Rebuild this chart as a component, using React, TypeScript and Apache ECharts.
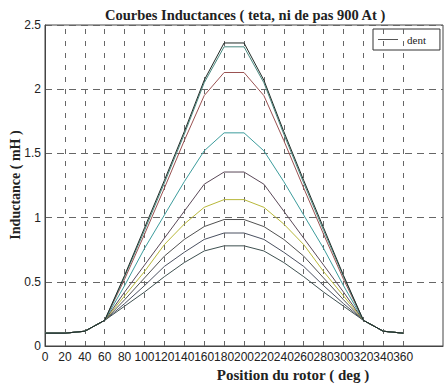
import React, { useEffect, useRef } from "react";
import * as echarts from "echarts";

const positions = [0, 20, 40, 60, 80, 100, 120, 140, 160, 180, 200, 220, 240, 260, 280, 300, 320, 340, 360];
const xTickLabels = [0, 20, 40, 60, 80, 100, 120, 140, 160, 180, 200, 220, 240, 260, 280, 300, 320, 340, 360];
const gridXs = [20, 40, 60, 80, 100, 120, 140, 160, 180, 200, 220, 240, 260, 280, 300, 320, 340, 360];

const curve1 = [0.1, 0.1, 0.115, 0.2, 0.55, 0.92, 1.29, 1.67, 2.07, 2.36, 2.36, 2.07, 1.67, 1.29, 0.92, 0.55, 0.2, 0.115, 0.1];
const curve2 = [0.1, 0.1, 0.115, 0.2, 0.54, 0.9, 1.27, 1.65, 2.05, 2.33, 2.33, 2.05, 1.65, 1.27, 0.9, 0.54, 0.2, 0.115, 0.1];
const curve3 = [0.1, 0.1, 0.115, 0.2, 0.52, 0.87, 1.23, 1.6, 1.95, 2.13, 2.13, 1.95, 1.6, 1.23, 0.87, 0.52, 0.2, 0.115, 0.1];
const curve4 = [0.1, 0.1, 0.115, 0.2, 0.47, 0.76, 1.02, 1.28, 1.52, 1.66, 1.66, 1.52, 1.28, 1.02, 0.76, 0.47, 0.2, 0.115, 0.1];
const curve5 = [0.1, 0.1, 0.115, 0.2, 0.42, 0.63, 0.84, 1.05, 1.26, 1.355, 1.355, 1.26, 1.05, 0.84, 0.63, 0.42, 0.2, 0.115, 0.1];
const curve6 = [0.1, 0.1, 0.115, 0.2, 0.39, 0.58, 0.79, 0.95, 1.08, 1.14, 1.14, 1.08, 0.95, 0.79, 0.58, 0.39, 0.2, 0.115, 0.1];
const curve7 = [0.1, 0.1, 0.115, 0.2, 0.36, 0.53, 0.7, 0.83, 0.93, 0.985, 0.985, 0.93, 0.83, 0.7, 0.53, 0.36, 0.2, 0.115, 0.1];
const curve8 = [0.1, 0.1, 0.115, 0.2, 0.33, 0.47, 0.62, 0.73, 0.83, 0.88, 0.88, 0.83, 0.73, 0.62, 0.47, 0.33, 0.2, 0.115, 0.1];
const curve9 = [0.1, 0.1, 0.115, 0.2, 0.31, 0.42, 0.54, 0.65, 0.74, 0.78, 0.78, 0.74, 0.65, 0.54, 0.42, 0.31, 0.2, 0.115, 0.1];

const seriesNames = ["dent", "c2", "c3", "c4", "c5", "c6", "c7", "c8", "c9"];
const seriesData = [curve1, curve2, curve3, curve4, curve5, curve6, curve7, curve8, curve9];
const seriesColors = ["#1f2a26", "#4a8a80", "#9a5252", "#3c9c9c", "#5a4858", "#b8b83a", "#505050", "#4a5060", "#3e5050"];

export default function App() {
  const ref = useRef<HTMLDivElement>(null);
  useEffect(() => {
    if (!ref.current) return;
    const chart = echarts.init(ref.current, null, { renderer: "svg" });
    const serif = '"Liberation Serif", "Times New Roman", serif';
    const sans = '"Liberation Sans", Arial, sans-serif';
    const series: any[] = seriesData.map((d, i) => ({
      name: seriesNames[i],
      type: "line",
      data: d.map((v, j) => [positions[j], v]),
      showSymbol: false,
      lineStyle: { width: 1, color: seriesColors[i] },
      itemStyle: { color: i === 0 ? "#555" : seriesColors[i] },
      z: i === 0 ? 20 : 10 - i,
    }));
    series.push({
      name: "grid",
      type: "line",
      data: [],
      silent: true,
      markLine: {
        silent: true,
        symbol: ["none", "none"],
        label: { show: false },
        lineStyle: { type: [5, 7], color: "#666", width: 1 },
        data: gridXs.map((x) => ({ xAxis: x })),
      },
      z: 1,
    });
    chart.setOption({
      animation: false,
      backgroundColor: "#ffffff",
      title: {
        text: "Courbes Inductances ( teta, ni de pas 900 At )",
        left: 100,
        top: 2,
        textStyle: { fontFamily: serif, fontWeight: "bold", fontSize: 14.5, color: "#222" },
      },
      legend: {
        data: ["dent"],
        left: 373,
        top: 29,
        orient: "vertical",
        backgroundColor: "#fff",
        borderColor: "#333",
        borderWidth: 1,
        borderRadius: 0,
        padding: [5, 14, 5, 5],
        icon: "rect",
        itemWidth: 20,
        itemHeight: 1,
        itemGap: 5,
        textStyle: { fontFamily: serif, fontSize: 11, color: "#222", padding: [0, 0, 0, 4] },
      },
      grid: {
        left: 45,
        top: 25,
        width: 402,
        height: 321,
        show: true,
        borderColor: "#444",
        borderWidth: 1,
        backgroundColor: "transparent",
      },
      xAxis: {
        type: "value",
        min: 0,
        max: 400,
        interval: 20,
        axisLine: { show: true, lineStyle: { color: "#444" } },
        axisTick: { show: false },
        splitLine: { show: false },
        axisLabel: {
          margin: 5,
          fontFamily: sans,
          fontSize: 12,
          color: "#222",
          formatter: (v: number) => (xTickLabels.indexOf(v) >= 0 ? String(v) : ""),
        },
      },
      yAxis: {
        type: "value",
        min: 0,
        max: 2.5,
        interval: 0.5,
        axisLine: { show: true, lineStyle: { color: "#444" } },
        axisTick: { show: false },
        splitLine: { show: true, lineStyle: { type: [7, 5], color: "#666", width: 1 } },
        axisLabel: {
          margin: 4,
          fontFamily: sans,
          fontSize: 12,
          color: "#222",
          formatter: (v: number) => String(v),
        },
      },
      graphic: [
        {
          type: "text",
          x: 15,
          y: 185,
          rotation: Math.PI / 2,
          style: {
            text: "Inductance ( mH )",
            fontFamily: serif,
            fontWeight: "bold",
            fontSize: 14,
            fill: "#222",
            align: "center",
            verticalAlign: "middle",
          },
        },
        {
          type: "text",
          x: 293,
          y: 375,
          style: {
            text: "Position du rotor ( deg )",
            fontFamily: serif,
            fontWeight: "bold",
            fontSize: 15,
            fill: "#222",
            align: "center",
            verticalAlign: "middle",
          },
        },
      ],
      series,
    });
    return () => chart.dispose();
  }, []);
  return (
    <div
      ref={ref}
      style={{ position: "fixed", left: 0, top: 0, width: 446, height: 385, background: "#fff" }}
    />
  );
}
